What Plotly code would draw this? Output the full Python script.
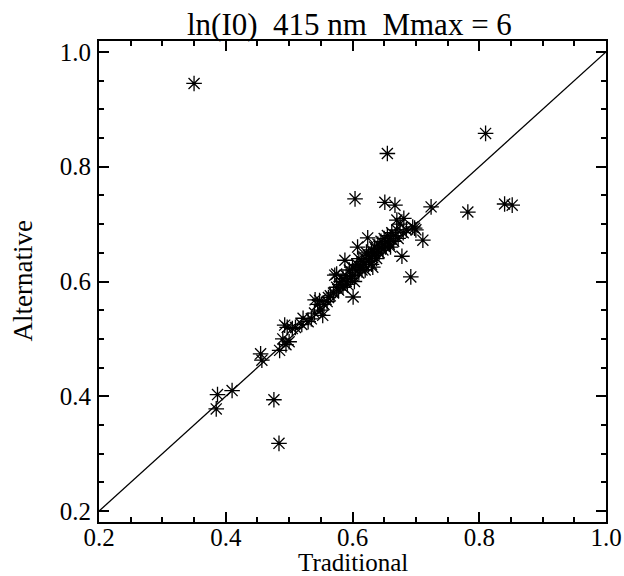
import plotly.graph_objects as go

# Traditional (x) vs Alternative (y)
trad = [0.350, 0.385, 0.387, 0.410, 0.455, 0.457, 0.476, 0.484,
        0.485, 0.490, 0.493, 0.495, 0.497, 0.500, 0.505, 0.510, 0.520, 0.522, 0.530, 0.535,
        0.540, 0.541, 0.545, 0.548, 0.550, 0.553, 0.555, 0.560, 0.562, 0.565,
        0.570, 0.572, 0.575, 0.575, 0.578, 0.580, 0.582, 0.585, 0.585, 0.588,
        0.590, 0.590, 0.592, 0.595, 0.597, 0.600, 0.600, 0.601, 0.603, 0.604,
        0.605, 0.607, 0.608, 0.610, 0.610, 0.612, 0.615, 0.615, 0.618, 0.620,
        0.620, 0.622, 0.624, 0.625, 0.625, 0.628, 0.630, 0.630, 0.632, 0.632,
        0.635, 0.635, 0.638, 0.640, 0.640, 0.642, 0.645, 0.645, 0.648, 0.650,
        0.650, 0.651, 0.652, 0.655, 0.655, 0.655, 0.658, 0.660, 0.660, 0.662,
        0.665, 0.667, 0.668, 0.670, 0.670, 0.672, 0.675, 0.678, 0.680, 0.681,
        0.685, 0.692, 0.695, 0.698, 0.700, 0.711, 0.724, 0.782, 0.810, 0.840, 0.852]
alt = [0.945, 0.378, 0.403, 0.410, 0.474, 0.463, 0.394, 0.318,
       0.480, 0.500, 0.524, 0.490, 0.520, 0.495, 0.518, 0.520, 0.525, 0.536, 0.530, 0.535,
       0.545, 0.568, 0.560, 0.567, 0.550, 0.541, 0.560, 0.565, 0.572, 0.575,
       0.580, 0.611, 0.590, 0.613, 0.585, 0.595, 0.600, 0.590, 0.605, 0.637,
       0.600, 0.610, 0.595, 0.620, 0.605, 0.610, 0.625, 0.573, 0.600, 0.744,
       0.620, 0.630, 0.660, 0.615, 0.640, 0.625, 0.620, 0.635, 0.630, 0.640,
       0.620, 0.650, 0.676, 0.635, 0.645, 0.640, 0.630, 0.655, 0.645, 0.625,
       0.650, 0.660, 0.640, 0.655, 0.665, 0.650, 0.660, 0.670, 0.655, 0.665,
       0.675, 0.738, 0.660, 0.670, 0.680, 0.823, 0.665, 0.675, 0.660, 0.685,
       0.670, 0.733, 0.680, 0.690, 0.707, 0.675, 0.700, 0.644, 0.685, 0.710,
       0.690, 0.608, 0.695, 0.693, 0.690, 0.672, 0.730, 0.721, 0.858, 0.735, 0.733]

line_x = [0.2, 1.0]
line_y = [0.2, 1.0]

x_ticks = [0.2, 0.4, 0.6, 0.8, 1.0]
x_ticklabels = ["0.2", "0.4", "0.6", "0.8", "1.0"]
y_ticks = [0.2, 0.4, 0.6, 0.8, 1.0]
y_ticklabels = ["0.2", "0.4", "0.6", "0.8", "1.0"]

x_title = "Traditional"
y_title = "Alternative"
main_title = "ln(I0)  415 nm  Mmax = 6"

font_family = "Liberation Serif"

fig = go.Figure()
fig.add_trace(go.Scatter(x=line_x, y=line_y, mode="lines",
                         line=dict(color="black", width=1.3), showlegend=False))
fig.add_trace(go.Scatter(x=trad, y=alt, mode="markers",
                         marker=dict(symbol="asterisk-open", size=13, color="black",
                                     line=dict(color="black", width=1.3)),
                         showlegend=False))

axis_common = dict(showline=True, linecolor="black", linewidth=2, mirror="allticks",
                   ticks="inside", ticklen=10, tickwidth=2, tickcolor="black",
                   showgrid=False, zeroline=False, automargin=False,
                   tickfont=dict(family=font_family, size=25, color="black"),
                   minor=dict(ticks="inside", ticklen=5, tickwidth=2, tickcolor="black",
                              dtick=0.05, tick0=0.2, showgrid=False))

fig.update_xaxes(range=[0.2, 1.0], tickvals=x_ticks, ticktext=x_ticklabels,
                 ticklabelstandoff=-8, **axis_common)
fig.update_yaxes(range=[0.181, 1.019], tickvals=y_ticks, ticktext=y_ticklabels,
                 ticklabelstandoff=1, **axis_common)

fig.add_annotation(text=x_title, xref="paper", yref="paper", x=0.5, y=0,
                   xanchor="center", yanchor="middle", yshift=-40, showarrow=False,
                   borderpad=0,
                   font=dict(family=font_family, size=25, color="black"))
fig.add_annotation(text=y_title, xref="paper", yref="paper", x=0, y=0.5,
                   xanchor="center", yanchor="middle", xshift=-77, textangle=-90,
                   showarrow=False,
                   font=dict(family=font_family, size=27, color="black"))

fig.update_layout(
    width=624, height=576,
    margin=dict(l=99, r=18, t=41, b=54),
    paper_bgcolor="white", plot_bgcolor="white",
    title=dict(text=main_title, x=0.56, xanchor="center", y=0.958, yanchor="middle",
               font=dict(family=font_family, size=31, color="black")),
)

fig.write_html("out.html", config={"displayModeBar": False},
               post_script="document.body.style.margin='0';")
